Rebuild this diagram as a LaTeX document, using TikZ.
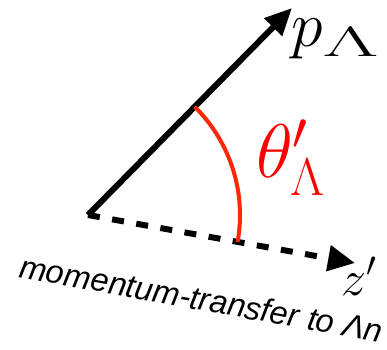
\RequirePackage{fix-cm}
\documentclass[tikz,border=0pt]{standalone}
\usepackage{fontspec}
\usepackage{graphicx}
\newfontfamily\lsans{Liberation Sans}
\usetikzlibrary{arrows.meta,calc}
\definecolor{arccol}{RGB}{255,40,5}
\definecolor{thcol}{RGB}{255,0,0}
\begin{document}
\begin{tikzpicture}[x=1pt,y=1pt,
  vec/.style={line width=6pt,-{Triangle[length=27pt,width=24pt]}},
  dvec/.style={line width=6pt,dash pattern=on 12pt off 12.5pt,-{Triangle[length=27pt,width=25pt]}},
  lab/.style={inner sep=0pt,anchor=base west}]
\useasboundingbox (0,0) rectangle (387,-349);
\coordinate (O) at (88,-215);
\coordinate (P) at (292,-8);
\coordinate (Z) at (355,-263);
\draw[vec] (O) -- (P);
\draw[dvec] (O) -- (Z);
\draw[arccol,line width=4pt] ($(O)+(45.4:152pt)$) arc[start angle=45.4,end angle=-10.2,radius=152pt];
\node[lab] (plab) at (291,-46) {\fontsize{64}{64}\selectfont$p$\raisebox{-10pt}{\scalebox{1.36}[0.66]{$\Lambda$}}};
\node[lab,text=thcol] (thlab) at (256,-177) {\fontsize{76}{80}\selectfont$\theta'_\Lambda$};
\node[lab] (zlab) at (341,-295) {\fontsize{50}{50}\selectfont$z'$};
\node[lab,rotate=-10.3] (mtlab) at (18,-277) {\fontsize{32.5}{34}\selectfont\lsans\itshape momentum-transfer to Λn};
\end{tikzpicture}
\end{document}
